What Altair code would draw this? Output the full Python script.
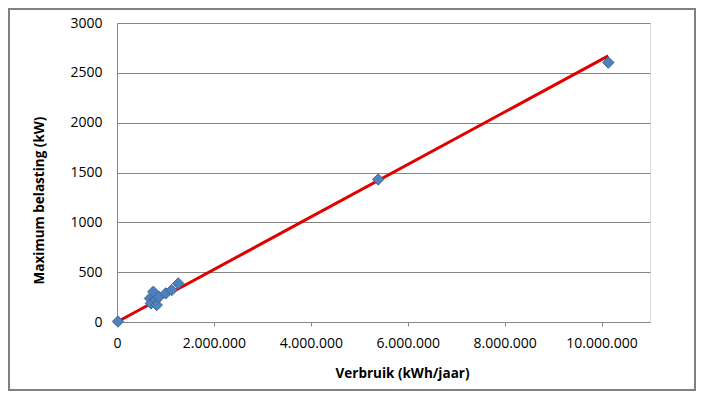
import altair as alt
import pandas as pd

# Data
verbruik = [20000, 680000, 700000, 749000, 800000, 820000, 866000, 1004000, 1128000, 1264000, 5390000, 10140000]
max_belasting = [5, 237, 187, 303, 220, 170, 253, 287, 320, 387, 1430, 2603]

trend_x = [0, 10140000]
trend_y = [0, 2670]

x_ticks = [0, 2000000, 4000000, 6000000, 8000000, 10000000]
y_ticks = [0, 500, 1000, 1500, 2000, 2500, 3000]

pts = pd.DataFrame({"x": verbruik, "y": max_belasting})
trend = pd.DataFrame({"x": trend_x, "y": trend_y})

FONT = "Open Sans"
GRID = "#868686"

x_enc = alt.X(
    "x:Q",
    scale=alt.Scale(domain=[0, 11000000], nice=False, zero=True),
    axis=alt.Axis(
        values=x_ticks,
        labelExpr="datum.value == 0 ? '0' : format(datum.value / 1000000, 'd') + '.000.000'",
        labelFlush=False,
        labelOverlap=False,
        grid=False,
        domainColor=GRID,
        tickColor=GRID,
        tickSize=4,
        labelPadding=10,
        labelFont=FONT,
        labelFontSize=14,
        labelColor="#000000",
        title="Verbruik (kWh/jaar)",
        titleFont=FONT,
        titleFontSize=13.5,
        titleFontWeight="bold",
        titleColor="#000000",
        titleX=285,
        titleY=55,
        titleAlign="center",
        titleBaseline="alphabetic",
    ),
)

y_enc = alt.Y(
    "y:Q",
    scale=alt.Scale(domain=[0, 3000], nice=False),
    axis=alt.Axis(
        values=y_ticks,
        format="d",
        labelFlush=False,
        labelOverlap=False,
        grid=True,
        gridColor=GRID,
        gridWidth=1,
        domainColor=GRID,
        ticks=False,
        tickSize=0,
        labelPadding=15,
        labelFont=FONT,
        labelFontSize=14,
        labelColor="#000000",
        title="Maximum belasting (kW)",
        titleFont=FONT,
        titleFontSize=13.5,
        titleFontWeight="bold",
        titleColor="#000000",
        titleAngle=-90,
        titleX=-74,
        titleY=177,
        titleAlign="center",
        titleBaseline="alphabetic",
    ),
)

line = alt.Chart(trend).mark_line(color="#E00000", strokeWidth=3).encode(x=x_enc, y=y_enc)

points = alt.Chart(pts).mark_point(
    shape="diamond", filled=True, size=130, fill="#4F81BD", stroke="#3F6797", strokeWidth=1, opacity=1
).encode(x="x:Q", y="y:Q")

frame = alt.Chart(pd.DataFrame({"a": [1]})).mark_rect(
    fill=None, fillOpacity=0, stroke="#808080", strokeWidth=2
).encode(
    x=alt.value(-108), x2=alt.value(578), y=alt.value(-14), y2=alt.value(367)
)

chart = alt.layer(line, points, frame).properties(
    width=533, height=299, padding=0
).configure_view(stroke=None).configure(background="#ffffff")

chart.save("out.html", embed_options={"renderer": "svg", "actions": False})
